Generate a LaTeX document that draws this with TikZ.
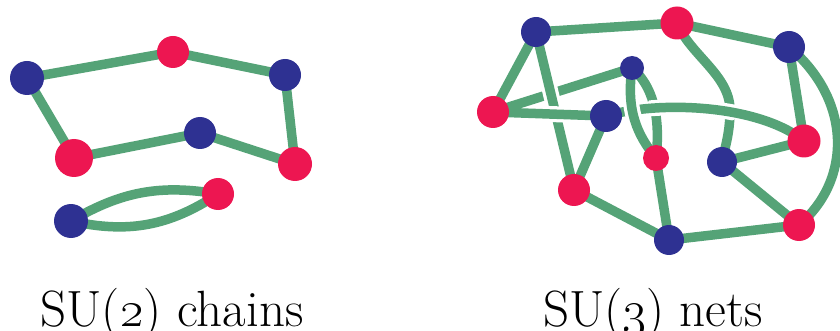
\RequirePackage{fix-cm}
\documentclass[tikz,border=0pt]{standalone}
\definecolor{nb}{HTML}{2E3192}
\definecolor{nr}{HTML}{ED1651}
\definecolor{eg}{HTML}{55A377}
\pgfdeclarelayer{bg}
\pgfsetlayers{bg,main}
\begin{document}
\begin{tikzpicture}[x=1pt,y=-1pt,
  bn/.style={circle,fill=nb,draw=none,inner sep=0pt,minimum size=#1},
  rn/.style={circle,fill=nr,draw=none,inner sep=0pt,minimum size=#1},
  ed/.style={draw=eg,line width=9.5pt,line join=round},
  gapline/.style={draw=white,line width=16pt},
  lab/.style={anchor=base,inner sep=0pt,font=\fontsize{51}{51}\selectfont}]
\useasboundingbox (0,0) rectangle (840,331);
% left nodes
\node[bn=34pt] (B1) at (27,78) {};
\node[rn=32pt] (R1) at (173,52) {};
\node[bn=32pt] (B2) at (285,75) {};
\node[rn=38pt] (R2) at (74,158) {};
\node[bn=32pt] (B3) at (200,133) {};
\node[rn=34pt] (R3) at (295,164) {};
\node[bn=34pt] (B4) at (71,221) {};
\node[rn=32pt] (R4) at (218,194) {};
% right nodes
\node[bn=30pt] (A) at (536,32) {};
\node[rn=33pt] (Bt) at (677,23) {};
\node[bn=32pt] (C) at (789,47) {};
\node[bn=24pt] (D) at (632,68) {};
\node[rn=32pt] (E) at (493,112) {};
\node[bn=32pt] (F) at (606,116) {};
\node[rn=26pt] (G) at (656,158) {};
\node[bn=30pt] (H) at (722,162) {};
\node[rn=33pt] (I) at (804,141) {};
\node[rn=32pt] (J) at (574,190) {};
\node[bn=30pt] (K) at (669,240) {};
\node[rn=32pt] (L) at (799,225) {};
\begin{pgfonlayer}{bg}
% left
\draw[ed] (B1.center)--(R1.center)--(B2.center)--(R3.center)--(B3.center)--(R2.center)--cycle;
\draw[ed] (B4.center) to[bend left=20] (R4.center);
\draw[ed] (B4.center) to[bend right=23] (R4.center);
% right
\draw[ed] (A.center)--(Bt.center)--(C.center);
\draw[ed] (A.center)--(E.center);
\draw[ed] (E.center)--(D.center);
\begin{scope}\clip (551,94) circle (11pt);\draw[gapline] (A.center)--(J.center);\end{scope}
\draw[ed] (A.center)--(J.center);
\begin{scope}\clip (556,114) circle (11pt);\draw[gapline] (E.center)--(F.center);\end{scope}
\draw[ed] (E.center)--(F.center);
\draw[ed] (F.center)--(J.center)--(K.center)--(L.center)--(H.center)--(I.center)--(C.center);
\draw[ed] (C.center) .. controls (852,100) and (852,180) .. (L.center);
\draw[ed] (G.center)--(K.center);
\draw[ed] (D.center) .. controls (652,85) and (661,115) .. (G.center);
\draw[ed] (Bt.center) .. controls (690,55) and (730,75) .. (730,110) .. controls (730,135) and (724,150) .. (H.center);
\begin{scope}\clip (657,108) circle (11pt) (729,110) circle (11pt);
\draw[gapline] (F.center) .. controls (660,100) and (760,105) .. (I.center);\end{scope}
\draw[ed] (F.center) .. controls (660,100) and (760,105) .. (I.center);
\begin{scope}\clip (632,112) circle (11pt);
\draw[gapline] (D.center) .. controls (626,110) and (637,135) .. (G.center);\end{scope}
\draw[ed] (D.center) .. controls (626,110) and (637,135) .. (G.center);
\end{pgfonlayer}
% labels
\node[lab] (t1) at (172,326) {SU(\oldstylenums{2}) chains};
\node[lab] (t2) at (653,326) {SU(\oldstylenums{3}) nets};
\end{tikzpicture}
\end{document}
